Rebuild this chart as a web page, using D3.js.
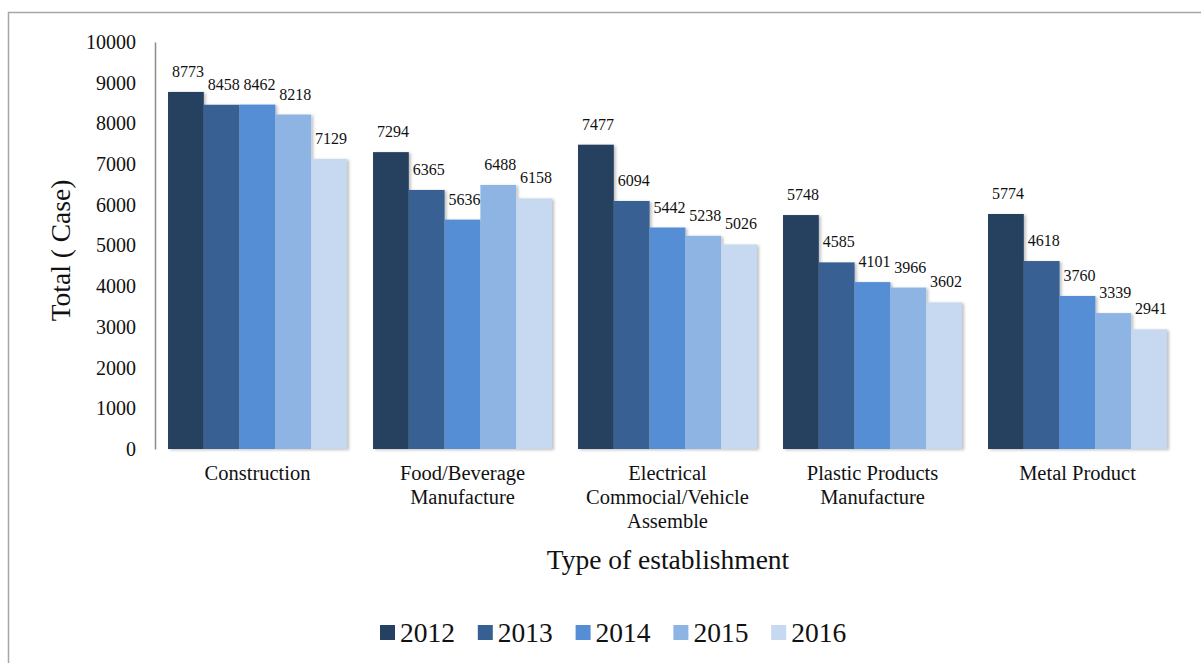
<!DOCTYPE html>
<html>
<head>
<meta charset="utf-8">
<script src="https://cdn.jsdelivr.net/npm/d3@7"></script>
<style>
  html, body { margin: 0; padding: 0; background: #fff; }
  svg, svg text { font-family: 'Liberation Serif', 'Times New Roman', serif !important; }
</style>
</head>
<body>
<svg id="chart" width="1201" height="663"></svg>
<script>
const categories = [
  ["Construction"],
  ["Food/Beverage", "Manufacture"],
  ["Electrical", "Commocial/Vehicle", "Assemble"],
  ["Plastic Products", "Manufacture"],
  ["Metal Product"]
];
const years = ["2012", "2013", "2014", "2015", "2016"];
const values2012 = [8773, 7294, 7477, 5748, 5774];
const values2013 = [8458, 6365, 6094, 4585, 4618];
const values2014 = [8462, 5636, 5442, 4101, 3760];
const values2015 = [8218, 6488, 5238, 3966, 3339];
const values2016 = [7129, 6158, 5026, 3602, 2941];
const yTicks = [0, 1000, 2000, 3000, 4000, 5000, 6000, 7000, 8000, 9000, 10000];
const colors = ["#254061", "#376092", "#558ED5", "#8EB4E3", "#C6D9F1"];

const series = [values2012, values2013, values2014, values2015, values2016];

const FONT = "'Liberation Serif', 'Times New Roman', serif";
const svg = d3.select("#chart").attr("font-family", FONT);
const plotLeft = 155, plotRight = 1180, plotTop = 42, plotBottom = 449;

// outer frame
svg.append("rect")
  .attr("x", 8.5).attr("y", 12.5)
  .attr("width", 1230).attr("height", 700)
  .attr("fill", "none").attr("stroke", "#a6a6a6").attr("stroke-width", 1.5);

const defs = svg.append("defs");
const f = defs.append("filter").attr("id", "shadow")
  .attr("x", "-10%").attr("y", "-10%").attr("width", "130%").attr("height", "120%");
f.append("feDropShadow").attr("dx", 2).attr("dy", 1).attr("stdDeviation", 1.5)
  .attr("flood-color", "#000").attr("flood-opacity", 0.25);

const catKeys = categories.map(c => c.join(" "));
const x0 = d3.scaleBand().domain(catKeys).range([plotLeft, plotRight]).paddingInner(0.127).paddingOuter(0.0635);
const x1 = d3.scaleBand().domain(years).range([0, x0.bandwidth()]);
const y = d3.scaleLinear().domain([0, 10000]).range([plotBottom, plotTop]);

// bars
const groups = svg.append("g").selectAll("g").data(catKeys).join("g")
  .attr("transform", d => `translate(${x0(d)},0)`);

groups.selectAll("rect")
  .data((d, i) => years.map((yr, j) => ({ yr, j, v: series[j][i] })))
  .join("rect")
  .attr("x", d => x1(d.yr))
  .attr("y", d => y(d.v))
  .attr("width", x1.bandwidth())
  .attr("height", d => y(0) - y(d.v))
  .attr("fill", d => colors[d.j])
  .attr("filter", "url(#shadow)");

groups.selectAll("text.lbl")
  .data((d, i) => years.map((yr, j) => ({ yr, j, v: series[j][i] })))
  .join("text")
  .attr("class", "lbl")
  .attr("x", d => x1(d.yr) + x1.bandwidth() / 2 + 2)
  .attr("y", d => y(d.v) - 15)
  .attr("text-anchor", "middle")
  .attr("font-size", 16)
  .attr("fill", "#111")
  .text(d => d.v);

// y axis
const yAxis = d3.axisLeft(y).tickValues(yTicks).tickSize(0).tickPadding(19).tickFormat(d3.format("d"));
const gy = svg.append("g").attr("transform", `translate(${plotLeft},0)`).call(yAxis)
  .attr("font-family", FONT);
gy.select(".domain").attr("stroke", "#8c8c8c").attr("stroke-width", 1.5);
gy.selectAll("text").attr("font-size", 20).attr("fill", "#111");

// x axis
const xAxis = d3.axisBottom(x0).tickSize(0).tickFormat("");
const gx = svg.append("g").attr("transform", `translate(0,${plotBottom})`).call(xAxis)
  .attr("font-family", FONT);
gx.select(".domain").attr("stroke", "#808080").attr("stroke-width", 2).attr("filter", "url(#shadow)");

gx.selectAll(".tick").each(function(d, i) {
  const t = d3.select(this).append("text")
    .attr("text-anchor", "middle")
    .attr("font-size", 20.5)
    .attr("fill", "#111");
  categories[i].forEach((line, k) => {
    t.append("tspan").attr("x", 0).attr("y", 31 + k * 24).text(line);
  });
});

// axis titles
svg.append("text")
  .attr("transform", `translate(70,${(plotTop + plotBottom) / 2 + 5}) rotate(-90)`)
  .attr("text-anchor", "middle")
  .attr("font-size", 27.5)
  .attr("fill", "#111")
  .text("Total ( Case)");

svg.append("text")
  .attr("x", 668).attr("y", 569)
  .attr("text-anchor", "middle")
  .attr("font-size", 27.5)
  .attr("fill", "#111")
  .text("Type of establishment");

// legend
const legend = svg.append("g").selectAll("g").data(years).join("g")
  .attr("transform", (d, i) => `translate(${380 + i * 97.8},625)`);
legend.append("rect").attr("width", 15).attr("height", 15).attr("fill", (d, i) => colors[i]);
legend.append("text").attr("x", 20).attr("y", 17)
  .attr("font-size", 27.5).attr("fill", "#111").text(d => d);
</script>
</body>
</html>
